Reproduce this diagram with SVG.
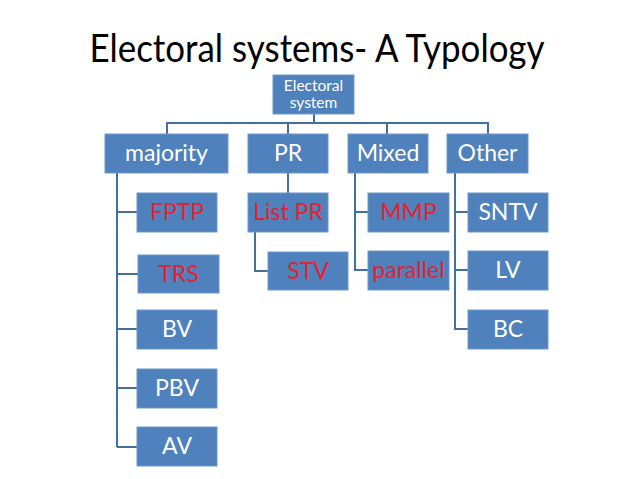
<svg xmlns="http://www.w3.org/2000/svg" width="638" height="479" viewBox="0 0 638 479">
<style>
.box{fill:#4F81BD;stroke:#6E97CC;stroke-width:1}
.t{font-family:Lato,"Liberation Sans",Arial,sans-serif;font-size:23px;fill:#FFFFFF;text-anchor:middle}
.r{fill:#E3222D}
.small{font-size:15.5px}
.c{fill:none;stroke:#41719C;stroke-width:2}
</style>
<rect width="638" height="479" fill="#FFFFFF"/>
<text x="317" y="62" font-family="Lato,'Liberation Sans',Arial,sans-serif" font-size="39" fill="#000000" text-anchor="middle" textLength="455" lengthAdjust="spacingAndGlyphs">Electoral systems- A Typology</text>
<g id="connectors">
<path class="c" d="M314,114V123M167,134V123H488V134M288,123V134M387,123V134"/>
<path class="c" d="M117,173V447M117,212H137M117,274H138M117,329H137M117,388H137M117,447H137"/>
<path class="c" d="M288,173V193M255,232V271H268"/>
<path class="c" d="M355,173V270H368M355,212H368"/>
<path class="c" d="M455,173V329H468M455,212H468M455,270H468"/>
</g>
<g id="root"><rect class="box" x="273" y="75" width="81" height="39"/><text class="t small" x="313.5" y="91">Electoral</text><text class="t small" x="313.5" y="108">system</text></g>
<g id="majority"><rect class="box" x="105" y="134" width="123" height="39"/><text class="t" x="166.5" y="161">majority</text></g>
<g id="pr"><rect class="box" x="248" y="134" width="80" height="39"/><text class="t" x="288" y="161">PR</text></g>
<g id="mixed"><rect class="box" x="348" y="134" width="80" height="39"/><text class="t" x="388" y="161">Mixed</text></g>
<g id="other"><rect class="box" x="447" y="134" width="81" height="39"/><text class="t" x="487.5" y="161">Other</text></g>
<g id="fptp"><rect class="box" x="137" y="193" width="80" height="39"/><text class="t r" x="177" y="220">FPTP</text></g>
<g id="trs"><rect class="box" x="138" y="255" width="81" height="38"/><text class="t r" x="178.5" y="282">TRS</text></g>
<g id="bv"><rect class="box" x="137" y="310" width="80" height="39"/><text class="t" x="177" y="337">BV</text></g>
<g id="pbv"><rect class="box" x="137" y="369" width="80" height="39"/><text class="t" x="177" y="396">PBV</text></g>
<g id="av"><rect class="box" x="137" y="427" width="80" height="39"/><text class="t" x="177" y="454">AV</text></g>
<g id="listpr"><rect class="box" x="248" y="193" width="80" height="39"/><text class="t r" x="288" y="220">List PR</text></g>
<g id="stv"><rect class="box" x="268" y="252" width="80" height="38"/><text class="t r" x="308" y="279">STV</text></g>
<g id="mmp"><rect class="box" x="368" y="193" width="81" height="39"/><text class="t r" x="408.5" y="220">MMP</text></g>
<g id="parallel"><rect class="box" x="368" y="251" width="81" height="39"/><text class="t r" x="408.5" y="278">parallel</text></g>
<g id="sntv"><rect class="box" x="468" y="193" width="80" height="39"/><text class="t" x="508" y="220">SNTV</text></g>
<g id="lv"><rect class="box" x="468" y="251" width="80" height="39"/><text class="t" x="508" y="278">LV</text></g>
<g id="bc"><rect class="box" x="468" y="310" width="80" height="39"/><text class="t" x="508" y="337">BC</text></g>
</svg>
